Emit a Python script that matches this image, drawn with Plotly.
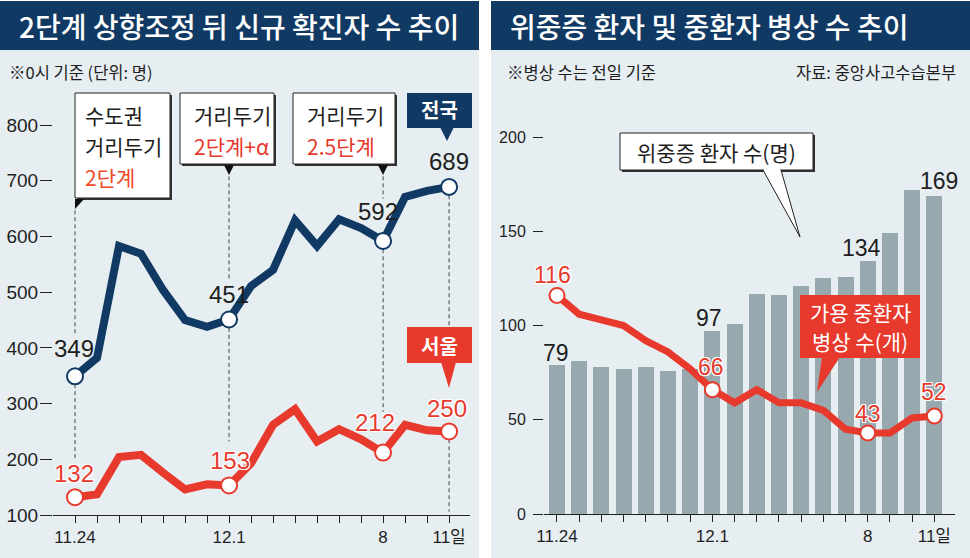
import plotly.graph_objects as go

# ---------------- data ----------------
dates = ["11.24", "11.25", "11.26", "11.27", "11.28", "11.29", "11.30",
         "12.1", "12.2", "12.3", "12.4", "12.5", "12.6", "12.7",
         "12.8", "12.9", "12.10", "12.11"]
tick_text = ["11.24", "", "", "", "", "", "", "12.1", "", "", "", "", "", "",
             "8", "", "", "11일"]
national = [349, 382, 583, 569, 504, 450, 438, 451, 511, 540, 629, 583, 631, 615, 592, 671, 682, 689]
seoul = [132, 137, 204, 208, 176, 146, 155, 153, 193, 262, 290, 232, 254, 236, 212, 262, 252, 250]
critical = [79, 81, 78, 77, 78, 76, 77, 97, 101, 117, 116, 121, 125, 126, 134, 149, 172, 169]
beds = [116, 106, 103, 100, 92, 86, 77, 66, 59, 66, 59, 59, 55, 45, 43, 43, 51, 52]
left_yticks = [100, 200, 300, 400, 500, 600, 700, 800]
right_yticks = [0, 50, 100, 150, 200]

nat_labeled = [0, 7, 14, 17]
seo_labeled = [0, 7, 14, 17]
crit_labeled = [0, 7, 14, 17]
beds_labeled = [0, 7, 14, 17]

# ---------------- style ----------------
W, H = 970, 558
NAVY = "#103a63"
RED = "#e8392d"
ORANGE = "#ef4a2a"
BG = "#e7eef2"
BAR = "#97a8ae"
TXT = "#1e1e1e"
KR = "Noto Sans CJK KR"
NUM = "Liberation Sans, Noto Sans CJK KR, sans-serif"
HALO = "-1px -1px 0 #fff, 1px -1px 0 #fff, -1px 1px 0 #fff, 1px 1px 0 #fff, 0 0 2px #fff"


def X(p):
    return p / W


def Y(p):
    return 1 - p / H


x_idx = list(range(len(dates)))

fig = go.Figure()

# right chart bars
fig.add_trace(go.Bar(x=x_idx, y=critical, xaxis="x2", yaxis="y2",
                     marker=dict(color=BAR, line=dict(width=0)), width=0.72,
                     hoverinfo="skip", showlegend=False))
# right chart beds line
fig.add_trace(go.Scatter(x=x_idx, y=beds, xaxis="x2", yaxis="y2", mode="lines",
                         line=dict(color=RED, width=7), hoverinfo="skip", showlegend=False))
fig.add_trace(go.Scatter(x=[x_idx[i] for i in beds_labeled], y=[beds[i] for i in beds_labeled],
                         xaxis="x2", yaxis="y2", mode="markers",
                         marker=dict(size=15, color="white", line=dict(color=RED, width=2)),
                         hoverinfo="skip", showlegend=False))

# left chart lines
for vals, col, lab in [(national, NAVY, nat_labeled), (seoul, RED, seo_labeled)]:
    fig.add_trace(go.Scatter(x=x_idx, y=vals, xaxis="x", yaxis="y", mode="lines",
                             line=dict(color=col, width=8), hoverinfo="skip", showlegend=False))
    fig.add_trace(go.Scatter(x=[x_idx[i] for i in lab], y=[vals[i] for i in lab],
                             xaxis="x", yaxis="y", mode="markers",
                             marker=dict(size=16, color="white", line=dict(color=col, width=2)),
                             hoverinfo="skip", showlegend=False))

shapes = []
# panel backgrounds
shapes.append(dict(type="rect", xref="paper", yref="paper", x0=X(0), x1=X(479), y0=Y(558), y1=Y(50),
                   fillcolor=BG, line=dict(width=0), layer="below"))
shapes.append(dict(type="rect", xref="paper", yref="paper", x0=X(491), x1=X(970), y0=Y(558), y1=Y(50),
                   fillcolor=BG, line=dict(width=0), layer="below"))
shapes.append(dict(type="rect", xref="paper", yref="paper", x0=X(0), x1=X(479), y0=Y(50), y1=Y(1),
                   fillcolor=NAVY, line=dict(width=0), layer="below"))
shapes.append(dict(type="rect", xref="paper", yref="paper", x0=X(491), x1=X(970), y0=Y(50), y1=Y(1),
                   fillcolor=NAVY, line=dict(width=0), layer="below"))

# dashed guide segments (x index, y from, y to) in data units of left chart
dash_segments = [(0, 647, 425), (0, 335, 202),
                 (7, 708, 520), (7, 436, 232),
                 (14, 708, 668), (14, 577, 285),
                 (17, 674, 437), (17, 236, 106)]
for xi, ya, yb in dash_segments:
    shapes.append(dict(type="line", xref="x", yref="y", x0=xi, x1=xi, y0=ya, y1=yb,
                       line=dict(color="#444", width=1, dash="4px,3px"), layer="below"))


def path(points, close=True):
    s = "M " + " L ".join(f"{X(a)},{Y(b)}" for a, b in points)
    return s + (" Z" if close else "")


def white_box(x0, y0, x1, y1):
    shapes.append(dict(type="rect", xref="paper", yref="paper", x0=X(x0 + 2), x1=X(x1 + 2),
                       y0=Y(y1 + 2), y1=Y(y0 + 2), fillcolor="#333", line=dict(width=0)))
    shapes.append(dict(type="rect", xref="paper", yref="paper", x0=X(x0), x1=X(x1),
                       y0=Y(y1), y1=Y(y0), fillcolor="white", line=dict(color="#222", width=1)))


# left callouts
white_box(75, 93, 170, 198)
shapes.append(dict(type="path", xref="paper", yref="paper",
                   path=path([(75, 199), (84, 199), (75, 209)]), fillcolor="#111", line=dict(width=0)))
white_box(180, 93, 274, 164)
shapes.append(dict(type="path", xref="paper", yref="paper",
                   path=path([(224, 165), (234, 165), (229, 175)]), fillcolor="#111", line=dict(width=0)))
white_box(293, 93, 395, 164)
shapes.append(dict(type="path", xref="paper", yref="paper",
                   path=path([(378, 165), (388, 165), (383, 175)]), fillcolor="#111", line=dict(width=0)))
# 전국 box
shapes.append(dict(type="rect", xref="paper", yref="paper", x0=X(407), x1=X(472), y0=Y(128), y1=Y(93),
                   fillcolor=NAVY, line=dict(width=0)))
shapes.append(dict(type="path", xref="paper", yref="paper",
                   path=path([(440, 127), (454, 127), (447, 141)]), fillcolor=NAVY, line=dict(width=0)))
# 서울 box
shapes.append(dict(type="rect", xref="paper", yref="paper", x0=X(407), x1=X(472), y0=Y(363), y1=Y(327),
                   fillcolor=RED, line=dict(width=0)))
shapes.append(dict(type="path", xref="paper", yref="paper",
                   path=path([(441, 362), (456, 362), (449, 388)]), fillcolor=RED, line=dict(width=0)))

# right callouts
white_box(620, 133, 813, 170)
shapes.append(dict(type="path", xref="paper", yref="paper",
                   path=path([(763, 170), (800, 237), (781, 170)], close=False),
                   fillcolor="white", line=dict(color="#222", width=1)))
shapes.append(dict(type="line", xref="paper", yref="paper", x0=X(764), x1=X(780), y0=Y(170), y1=Y(170),
                   line=dict(color="white", width=2)))
shapes.append(dict(type="rect", xref="paper", yref="paper", x0=X(800), x1=X(920), y0=Y(358), y1=Y(295),
                   fillcolor=RED, line=dict(width=0)))
shapes.append(dict(type="path", xref="paper", yref="paper",
                   path=path([(822, 357), (840, 357), (817, 392)]), fillcolor=RED, line=dict(width=0)))

ann = []


def txt(x, y, s, size, color=TXT, xanchor="center", family=KR, weight=None, shadow=None):
    f = dict(family=family, size=size, color=color)
    if weight:
        f["weight"] = weight
    if shadow:
        f["shadow"] = shadow
    ann.append(dict(xref="paper", yref="paper", x=X(x), y=Y(y), text=s, showarrow=False,
                    xanchor=xanchor, yanchor="middle", font=f))


# headers
txt(239, 26, "2단계 상향조정 뒤 신규 확진자 수 추이", 28, "white", weight=500)
txt(508, 26, "위중증 환자 및 중환자 병상 수 추이", 28, "white", xanchor="left", weight=500)
txt(7, 72, "※0시 기준 (단위: 명)", 16.5, xanchor="left")
txt(505, 72, "※병상 수는 전일 기준", 16.5, xanchor="left")
txt(958, 72, "자료: 중앙사고수습본부", 16.5, xanchor="right")

# callout texts
txt(83, 115, "수도권", 21, xanchor="left")
txt(83, 146, "거리두기", 21, xanchor="left")
txt(83, 177, "2단계", 21, ORANGE, xanchor="left")
txt(192, 115, "거리두기", 21, xanchor="left")
txt(192, 146, "2단계+α", 21, RED, xanchor="left")
txt(305, 115, "거리두기", 21, xanchor="left")
txt(305, 146, "2.5단계", 21, RED, xanchor="left")
txt(439.5, 110, "전국", 20, "white", weight="bold")
txt(439.5, 345, "서울", 20, "white", weight="bold")
txt(716, 152, "위중증 환자 수(명)", 21)
txt(860, 312, "가용 중환자", 21, "white")
txt(860, 341, "병상 수(개)", 21, "white")


def val_label(xaxis, yaxis, i, v, dy, dx, color, size=24, shadow=None):
    f = dict(family=NUM, size=size, color=color)
    if shadow:
        f["shadow"] = shadow
    ann.append(dict(xref=xaxis, yref=yaxis, x=i, y=v, text=str(v), showarrow=False,
                    xanchor="center", yanchor="middle", yshift=dy, xshift=dx, font=f))


for i, dy, dx in zip(nat_labeled, [28, 25, 29, 25], [-1, 0, -5, 0]):
    val_label("x", "y", i, national[i], dy, dx, TXT)
for i, dy, dx in zip(seo_labeled, [24, 25, 30, 23], [-1, 1, -8, -2]):
    val_label("x", "y", i, seoul[i], dy, dx, RED, shadow=HALO)
for i, dy, dx in zip(crit_labeled, [12, 13, 13, 15], [-1, -3, -6, 5]):
    val_label("x2", "y2", i, critical[i], dy, dx, TXT, size=23)
for i, dy, dx in zip(beds_labeled, [20, 23, 19, 24], [-4, -1, 0, 0]):
    val_label("x2", "y2", i, beds[i], dy, dx, RED, size=23, shadow=HALO)

axis_common = dict(showgrid=False, zeroline=False, fixedrange=True, automargin=False)

fig.update_layout(
    width=W, height=H, margin=dict(l=0, r=0, t=0, b=0, pad=0, autoexpand=False),
    autosize=False,
    paper_bgcolor="white", plot_bgcolor="rgba(0,0,0,0)",
    bargap=0, showlegend=False,
    xaxis=dict(domain=[X(53), X(470)], range=[-1, 17.95], tickmode="array",
               tickvals=x_idx, ticktext=tick_text, ticks="outside", ticklen=7,
               tickcolor="#222", tickwidth=1, showline=True, linecolor="#222", linewidth=1,
               tickfont=dict(family=NUM, size=17, color=TXT), anchor="y", **axis_common),
    yaxis=dict(domain=[Y(515), Y(90)], range=[100, 863], tickmode="array",
               tickvals=left_yticks, ticks="outside", ticklen=12, tickcolor="#222",
               tickwidth=1, showline=False, ticklabelstandoff=-2,
               tickfont=dict(family=NUM, size=19, color=TXT), anchor="x", **axis_common),
    xaxis2=dict(domain=[X(544), X(955)], range=[-0.585, 17.93], tickmode="array",
                tickvals=x_idx, ticktext=tick_text, ticks="outside", ticklen=7,
                tickcolor="#222", tickwidth=1, showline=True, linecolor="#222", linewidth=1,
                tickfont=dict(family=NUM, size=17, color=TXT), anchor="y2", **axis_common),
    yaxis2=dict(domain=[Y(514), Y(90)], range=[0, 225], tickmode="array",
                tickvals=right_yticks, ticks="outside", ticklen=10, tickcolor="#222",
                tickwidth=1, showline=False, ticklabelstandoff=4,
                tickfont=dict(family=NUM, size=16, color=TXT), anchor="x2", **axis_common),
    shapes=shapes, annotations=ann,
)

fig.write_html("out.html", config={"displayModeBar": False},
               post_script="document.body.style.margin='0';document.body.style.overflow='hidden';")
